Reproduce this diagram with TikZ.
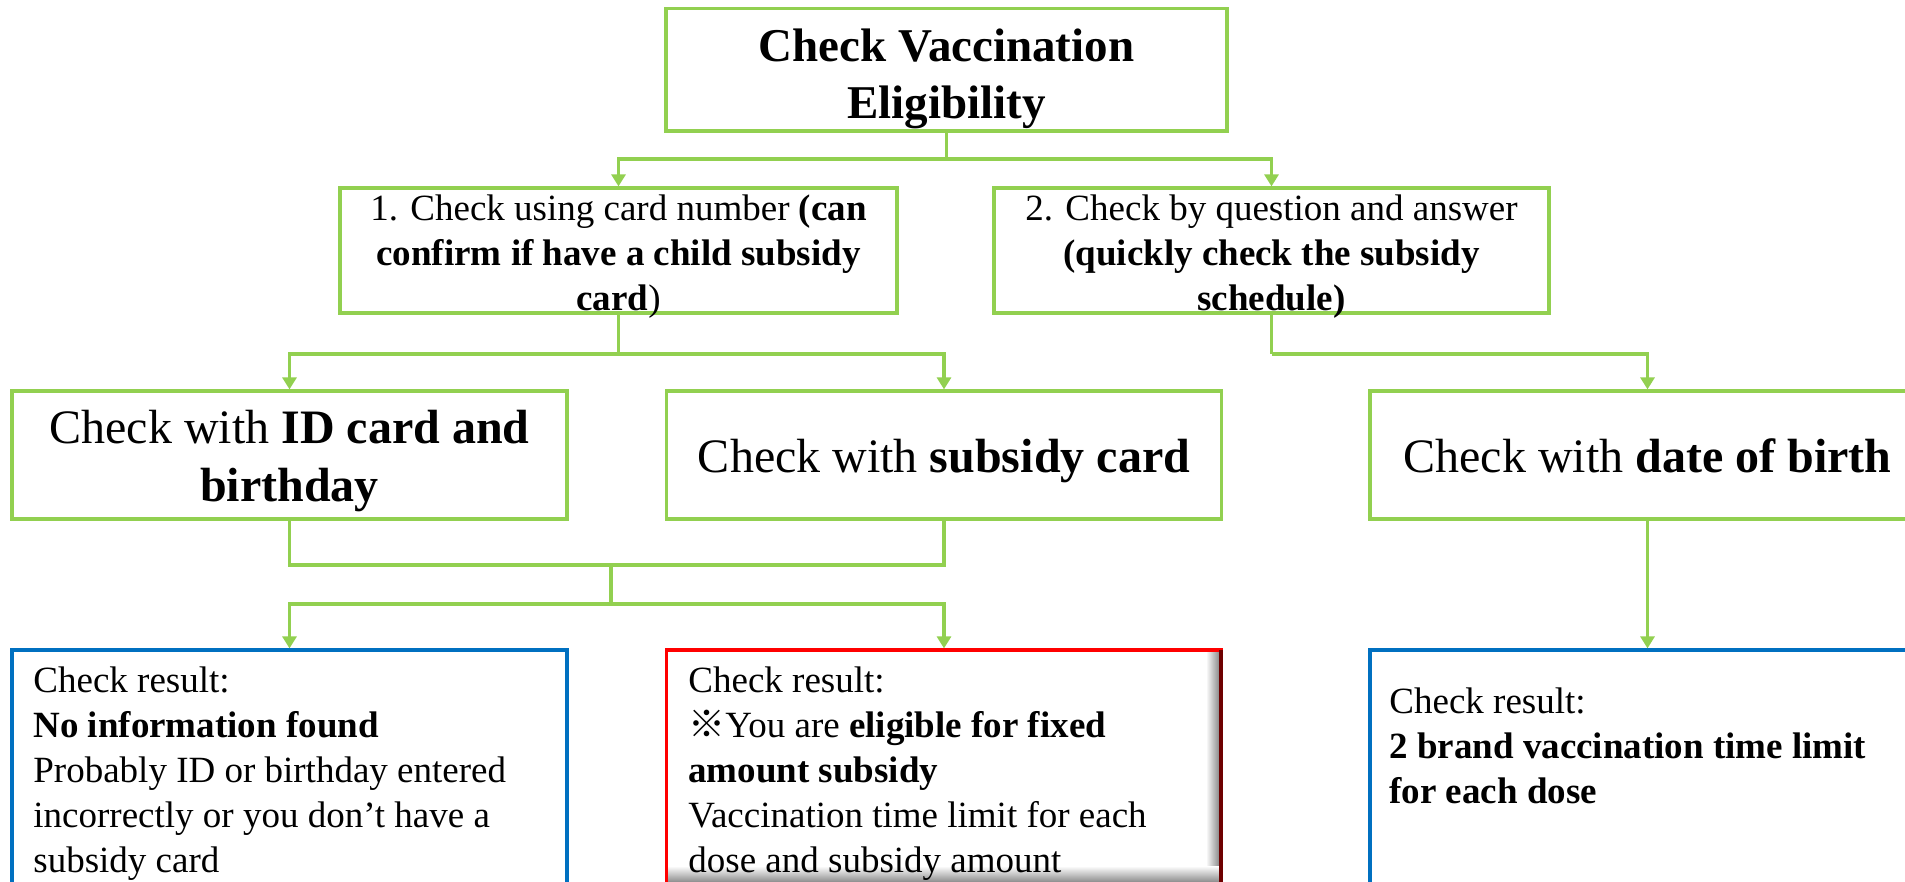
\documentclass[tikz,border=0pt]{standalone}
\usepackage{fontspec}
\setmainfont{Liberation Serif}
\newfontfamily\cjk{Noto Sans CJK JP}
\usetikzlibrary{arrows.meta}
\definecolor{lgreen}{HTML}{92D050}
\definecolor{pblue}{HTML}{0070C0}
\definecolor{pred}{HTML}{FF0000}
\definecolor{dred}{HTML}{6E0000}
\begin{document}
\begin{tikzpicture}[x=0.5pt,y=-0.5pt,
  gbox/.style={draw=lgreen, line width=1.6pt, fill=white, inner sep=0pt, minimum width=277.5pt},
  bbox/.style={draw=pblue, line width=1.6pt, fill=white, inner sep=0pt, minimum width=277.5pt},
  rbox/.style={draw=pred, line width=1.6pt, fill=white, inner sep=0pt, minimum width=277.5pt},
  ln/.style={draw=lgreen, line width=1.6pt},
  arr/.style={ln, -{Triangle[length=6pt,width=7pt]}},
  ctxt/.style={inner sep=0pt, align=center},
  ltxt/.style={inner sep=0pt, align=left, anchor=north west, font=\fontsize{18.5pt}{22.5pt}\selectfont},
  ]
\useasboundingbox (0,0) rectangle (1905,882);
\clip (0,0) rectangle (1905,882);

% boxes
\node[gbox, minimum width=280.5pt, minimum height=61.25pt] (top) at (946.5,69.75) {};
\node[gbox, minimum width=278.5pt, minimum height=62.5pt] (b1) at (618.5,250.5) {};
\node[gbox, minimum height=62.5pt] (b2) at (1271.5,250.5) {};
\node[gbox, minimum height=64pt] (bA) at (289.5,455) {};
\node[gbox, minimum height=64pt] (bB) at (944,455) {};
\node[gbox, minimum height=64pt] (bC) at (1647.5,455) {};
\node[bbox, minimum height=116.75pt] (bD) at (289.5,766.75) {};
\node[rbox, minimum height=125pt] (bE) at (944,775) {};
\node[bbox, minimum height=116.75pt] (bF) at (1647.5,766.75) {};

% shadow of the red box
\shade[left color=white, right color=black!45] (1206,652) rectangle (1219,900);
\shade[top color=white, bottom color=black!45] (668,866) rectangle (1219,882);
\draw[dred, line width=1.6pt] (1221,650) -- (1221,900);

% texts
\node[ctxt, anchor=north, font=\fontsize{23.5pt}{28.5pt}\selectfont\bfseries] (tTop) at (946.5,28) {Check Vaccination\\Eligibility};
\node[ctxt, anchor=north, font=\fontsize{18.5pt}{22.5pt}\selectfont] (t1) at (618.5,194.5) {1. Check using card number \textbf{(can}\\\textbf{confirm if have a child subsidy}\\\textbf{card})};
\node[ctxt, anchor=north, font=\fontsize{18.5pt}{22.5pt}\selectfont] (t2) at (1271.5,194.5) {2. Check by question and answer\\\textbf{(quickly check the subsidy}\\\textbf{schedule)}};
\node[ctxt, anchor=north, font=\fontsize{24pt}{29pt}\selectfont] (tA) at (289.5,410) {Check with \textbf{ID card and}\\\textbf{birthday}};
\node[ctxt, anchor=base, font=\fontsize{24pt}{29pt}\selectfont] (tB) at (944,472) {Check with \textbf{subsidy card}};
\node[ctxt, anchor=base, font=\fontsize{24pt}{29pt}\selectfont] (tC) at (1647.5,472) {Check with \textbf{date of birth}};
\node[ltxt] (tD) at (33,666.5) {Check result:\\\textbf{No information found}\\Probably ID or birthday entered\\incorrectly or you don’t have a\\subsidy card};
\node[ltxt] (tE) at (688,666.5) {Check result:\\{\cjk ※}You are \textbf{eligible for fixed}\\\textbf{amount subsidy}\\Vaccination time limit for each\\dose and subsidy amount};
\node[ltxt] (tF) at (1389,687.5) {Check result:\\\textbf{2 brand vaccination time limit}\\\textbf{for each dose}};

% connectors
\coordinate (j1) at (946.5,159);
\draw[ln] (top.south) -- (j1);
\draw[arr] (j1) -| (b1.north);
\draw[arr] (j1) -| (b2.north);

\coordinate (j2) at (618.5,354);
\draw[ln] (b1.south) -- (j2);
\draw[arr] (j2) -| (bA.north);
\draw[arr] (j2) -| (bB.north);

\coordinate (j3) at (1271.5,354);
\draw[ln] (b2.south) -- (j3);
\draw[arr] (j3) -| (bC.north);

\coordinate (j4) at (611,565);
\coordinate (j5) at (611,604);
\draw[ln] (bA.south) |- (j4);
\draw[ln] (bB.south) |- (j4);
\draw[ln] (j4) -- (j5);
\draw[arr] (j5) -| (bD.north);
\draw[arr] (j5) -| (bE.north);

\draw[arr] (bC.south) -- (bF.north);
\end{tikzpicture}
\end{document}
